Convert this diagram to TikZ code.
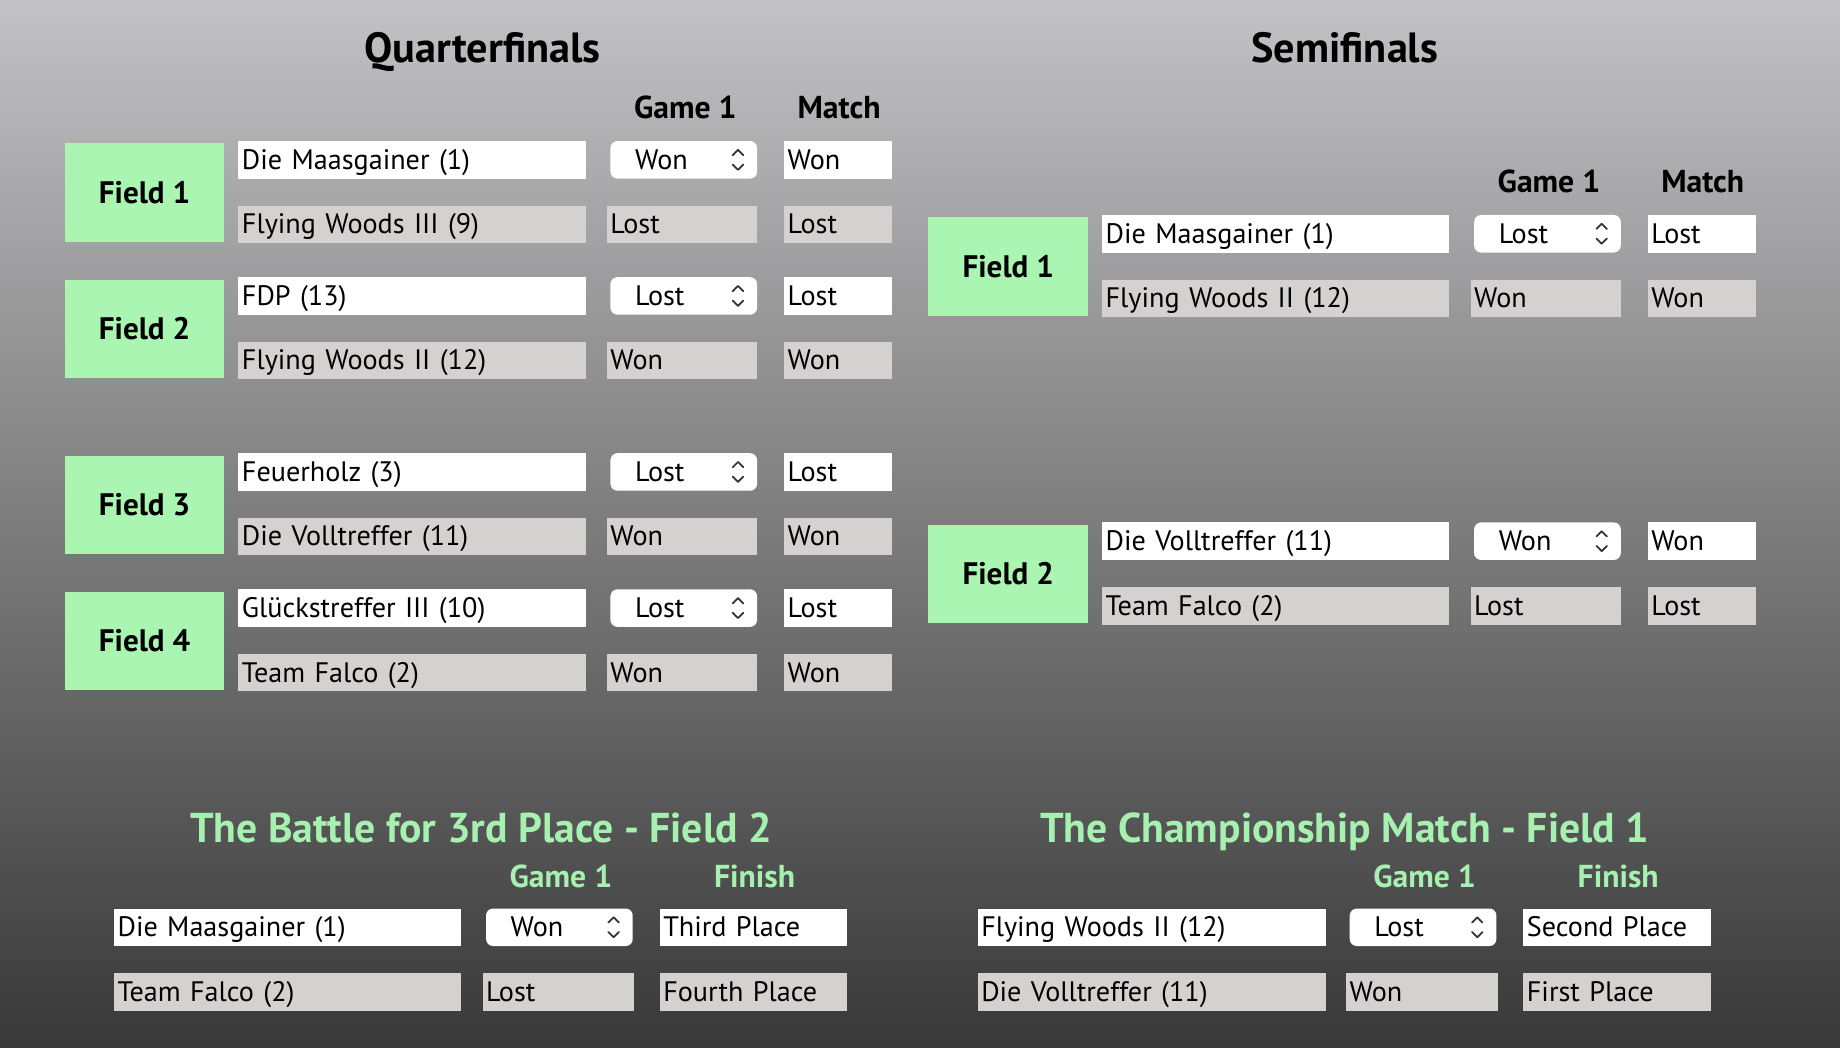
\documentclass[tikz,border=0pt]{standalone}
\usepackage{fontspec}
\setmainfont{PT Sans}
\usepackage{tikz}
\usetikzlibrary{positioning, calc}
\definecolor{bgtop}{RGB}{194,193,195}
\definecolor{bgbot}{RGB}{56,56,56}
\definecolor{fieldgreen}{RGB}{170,245,178}
\definecolor{cellgray}{RGB}{214,209,209}
\definecolor{titlegreen}{RGB}{166,240,176}
\newcommand{\updown}[1]{%
  \draw[chev] ([shift={(-21,-4)}]#1.east) -- ++(4.5,-4.5) -- ++(4.5,4.5);
  \draw[chev] ([shift={(-21,4)}]#1.east) -- ++(4.5,4.5) -- ++(4.5,-4.5);}

\begin{document}
\begin{tikzpicture}[x=1pt, y=-1pt,
        field/.style={rectangle, fill=fieldgreen, anchor=north west, minimum width=136, minimum height=84, inner sep=0, font=\bfseries\fontsize{26.5}{28}\selectfont},
        cellw/.style={rectangle, fill=white, anchor=north west, minimum height=32, inner xsep=3, inner ysep=0, text height=24, text depth=8, text width=#1, align=left, font=\fontsize{24}{26}\selectfont},
        cellg/.style={cellw=#1, fill=cellgray},
        dropbox/.style={cellw=83, inner xsep=21, rounded corners=6},
        chev/.style={draw=black!80, line width=1.5pt, line cap=round, line join=round},
        hdr/.style={anchor=base, font=\bfseries\fontsize{27}{29}\selectfont},
        ttl/.style={anchor=base, font=\bfseries\fontsize{36}{38}\selectfont}]
        \shade[top color=bgtop, bottom color=bgbot] (0,0) rectangle (1568,893);
        \useasboundingbox (0,0) rectangle (1568,893);

        % quarterfinals
        \node[ttl] (qtitle) at (411,53) {Quarterfinals};
        \node[hdr] (qgame) at (584,101) {Game 1};
        \node[hdr] (qmatch) at (715,101) {Match};

        \node[field] (q1) at (55,122) {Field 1};
        \node[cellw=290] (q1a) at (203,120) {Die Maasgainer (1)};
        \node[cellg=290] (q1b) at (203,175) {Flying Woods III (9)};
        \node[dropbox] (q1ga) at (520,120) {Won};
        \node[cellg=122] (q1gb) at (517,175) {Lost};
        \node[cellw=86] (q1ma) at (668,120) {Won};
        \node[cellg=86] (q1mb) at (668,175) {Lost};
        \updown{q1ga}

        \node[field] (q2) at (55,238) {Field 2};
        \node[cellw=290] (q2a) at (203,236) {FDP (13)};
        \node[cellg=290] (q2b) at (203,291) {Flying Woods II (12)};
        \node[dropbox] (q2ga) at (520,236) {Lost};
        \node[cellg=122] (q2gb) at (517,291) {Won};
        \node[cellw=86] (q2ma) at (668,236) {Lost};
        \node[cellg=86] (q2mb) at (668,291) {Won};
        \updown{q2ga}

        \node[field] (q3) at (55,388) {Field 3};
        \node[cellw=290] (q3a) at (203,386) {Feuerholz (3)};
        \node[cellg=290] (q3b) at (203,441) {Die Volltreffer (11)};
        \node[dropbox] (q3ga) at (520,386) {Lost};
        \node[cellg=122] (q3gb) at (517,441) {Won};
        \node[cellw=86] (q3ma) at (668,386) {Lost};
        \node[cellg=86] (q3mb) at (668,441) {Won};
        \updown{q3ga}

        \node[field] (q4) at (55,504) {Field 4};
        \node[cellw=290] (q4a) at (203,502) {Glückstreffer III (10)};
        \node[cellg=290] (q4b) at (203,557) {Team Falco (2)};
        \node[dropbox] (q4ga) at (520,502) {Lost};
        \node[cellg=122] (q4gb) at (517,557) {Won};
        \node[cellw=86] (q4ma) at (668,502) {Lost};
        \node[cellg=86] (q4mb) at (668,557) {Won};
        \updown{q4ga}

        % semifinals
        \node[ttl] (stitle) at (1146,53) {Semifinals};
        \node[hdr] (sgame) at (1320,164) {Game 1};
        \node[hdr] (smatch) at (1451,164) {Match};

        \node[field] (s1) at (791,185) {Field 1};
        \node[cellw=290] (s1a) at (939,183) {Die Maasgainer (1)};
        \node[cellg=290] (s1b) at (939,238) {Flying Woods II (12)};
        \node[dropbox] (s1ga) at (1256,183) {Lost};
        \node[cellg=122] (s1gb) at (1253,238) {Won};
        \node[cellw=86] (s1ma) at (1404,183) {Lost};
        \node[cellg=86] (s1mb) at (1404,238) {Won};
        \updown{s1ga}

        \node[field] (s2) at (791,447) {Field 2};
        \node[cellw=290] (s2a) at (939,445) {Die Volltreffer (11)};
        \node[cellg=290] (s2b) at (939,500) {Team Falco (2)};
        \node[dropbox] (s2ga) at (1256,445) {Won};
        \node[cellg=122] (s2gb) at (1253,500) {Lost};
        \node[cellw=86] (s2ma) at (1404,445) {Won};
        \node[cellg=86] (s2mb) at (1404,500) {Lost};
        \updown{s2ga}

        % 3rd place
        \node[ttl, text=titlegreen, font=\bfseries\fontsize{35.5}{38}\selectfont] (btitle) at (410,718) {The Battle for 3rd Place - Field 2};
        \node[hdr, text=titlegreen] (bgame) at (478,756) {Game 1};
        \node[hdr, text=titlegreen] (bfinish) at (643,756) {Finish};
        \node[cellw=290] (ba) at (97,774) {Die Maasgainer (1)};
        \node[cellg=290] (bb) at (97,829) {Team Falco (2)};
        \node[dropbox] (bga) at (414,774) {Won};
        \node[cellg=123] (bgb) at (411,829) {Lost};
        \node[cellw=154] (bfa) at (562,774) {Third Place};
        \node[cellg=154] (bfb) at (562,829) {Fourth Place};
        \updown{bga}

        % championship
        \node[ttl, text=titlegreen, font=\bfseries\fontsize{35.5}{38}\selectfont] (ctitle) at (1146,718) {The Championship Match - Field 1};
        \node[hdr, text=titlegreen] (cgame) at (1214,756) {Game 1};
        \node[hdr, text=titlegreen] (cfinish) at (1379,756) {Finish};
        \node[cellw=291] (ca) at (833,774) {Flying Woods II (12)};
        \node[cellg=291] (cb) at (833,829) {Die Volltreffer (11)};
        \node[dropbox] (cga) at (1150,774) {Lost};
        \node[cellg=123] (cgb) at (1147,829) {Won};
        \node[cellw=154] (cfa) at (1298,774) {Second Place};
        \node[cellg=154] (cfb) at (1298,829) {First Place};
        \updown{cga}
    \end{tikzpicture}
\end{document}
